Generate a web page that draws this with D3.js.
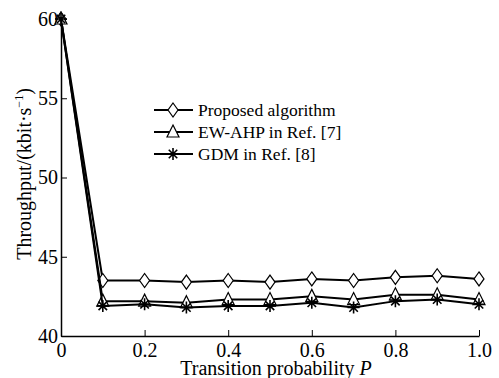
<!DOCTYPE html>
<html>
<head>
<meta charset="utf-8">
<script src="https://cdn.jsdelivr.net/npm/d3@7"></script>
<style>
  body { margin: 0; background: #fff; }
  text { font-family: 'Liberation Serif', 'Times New Roman', serif; fill: #000; }
</style>
</head>
<body>
<div id="chart"></div>
<script>
const probs = [0, 0.1, 0.2, 0.3, 0.4, 0.5, 0.6, 0.7, 0.8, 0.9, 1.0]
const proposed = [60, 43.5, 43.5, 43.4, 43.5, 43.4, 43.6, 43.5, 43.7, 43.8, 43.6]
const ewAhp = [60, 42.2, 42.2, 42.1, 42.3, 42.3, 42.5, 42.3, 42.6, 42.6, 42.3]
const gdm = [60, 41.9, 42.0, 41.8, 41.9, 41.9, 42.1, 41.8, 42.2, 42.3, 42.0]
const seriesNames = ['Proposed algorithm', 'EW-AHP in Ref. [7]', 'GDM in Ref. [8]']
const xTicks = [0, 0.2, 0.4, 0.6, 0.8, 1.0]
const yTicks = [40, 45, 50, 55, 60]

const svgSize = { width: 499, height: 378 }
const margin = { top: 19, right: 20, bottom: 42, left: 61 }

const svg = d3.select('#chart')
  .append('svg')
  .attr('width', svgSize.width)
  .attr('height', svgSize.height)

const xScale = d3.scaleLinear()
  .domain([0, 1])
  .range([margin.left, svgSize.width - margin.right])

const yScale = d3.scaleLinear()
  .domain([40, 60])
  .range([svgSize.height - margin.bottom, margin.top])

// axes, ticks pointing inward
const xAxis = svg.append('g')
  .attr('transform', `translate(0,${yScale(40)})`)
  .call(d3.axisBottom(xScale).tickValues(xTicks).tickSizeInner(-6).tickSizeOuter(0)
    .tickPadding(7).tickFormat(d => d === 0 ? '0' : d3.format('.1f')(d)))
xAxis.selectAll('text').attr('font-size', '20px')

const yAxis = svg.append('g')
  .attr('transform', `translate(${xScale(0)},0)`)
  .call(d3.axisLeft(yScale).tickValues(yTicks).tickSizeInner(-6).tickSizeOuter(0)
    .tickPadding(3))
yAxis.selectAll('text').attr('font-size', '20px')
svg.selectAll('.domain').attr('stroke', '#000').attr('stroke-width', 1.5)
svg.selectAll('.tick line').attr('stroke', '#000').attr('stroke-width', 1)

svg.append('text')
  .attr('x', 276)
  .attr('y', 375)
  .attr('text-anchor', 'middle')
  .attr('font-size', '20px')
  .html('Transition probability <tspan font-style="italic">P</tspan>')

svg.append('text')
  .attr('transform', 'translate(31,174) rotate(-90)')
  .attr('text-anchor', 'middle')
  .attr('font-size', '20px')
  .html('Throughput/(kbit·s<tspan dy="-8" font-size="12px">−1</tspan><tspan dy="8">)</tspan>')

const line = d3.line()
  .x((d, i) => xScale(probs[i]))
  .y(d => yScale(d))

const allSeries = [proposed, ewAhp, gdm]
const markers = ['diamond', 'triangle', 'star']

function drawMarker (g, type, x, y) {
  if (type === 'diamond') {
    g.append('path')
      .attr('d', `M${x},${y - 7}L${x + 5},${y}L${x},${y + 7}L${x - 5},${y}Z`)
      .attr('fill', '#fff').attr('stroke', '#000').attr('stroke-width', 1.2)
  } else if (type === 'triangle') {
    g.append('path')
      .attr('d', `M${x},${y - 7}L${x + 6},${y + 5}L${x - 6},${y + 5}Z`)
      .attr('fill', '#fff').attr('stroke', '#000').attr('stroke-width', 1.2)
  } else {
    const r = 6
    let d = ''
    for (let k = 0; k < 4; k++) {
      const a = k * Math.PI / 4
      d += `M${x - r * Math.cos(a)},${y - r * Math.sin(a)}L${x + r * Math.cos(a)},${y + r * Math.sin(a)}`
    }
    g.append('path').attr('d', d).attr('stroke', '#000').attr('stroke-width', 1.6).attr('fill', 'none')
  }
}

allSeries.forEach((values, si) => {
  svg.append('path')
    .attr('d', line(values))
    .attr('fill', 'none')
    .attr('stroke', '#000')
    .attr('stroke-width', 2)
  const g = svg.append('g')
  values.forEach((v, i) => drawMarker(g, markers[si], xScale(probs[i]), yScale(v)))
})

// legend
const legend = svg.append('g')
seriesNames.forEach((name, i) => {
  const y = 110 + i * 22
  legend.append('line')
    .attr('x1', 154).attr('x2', 193)
    .attr('y1', y).attr('y2', y)
    .attr('stroke', '#000').attr('stroke-width', 2)
  drawMarker(legend, markers[i], 173, y)
  legend.append('text')
    .attr('x', 198)
    .attr('y', y + 6)
    .attr('font-size', '17.5px')
    .text(name)
})
</script>
</body>
</html>
